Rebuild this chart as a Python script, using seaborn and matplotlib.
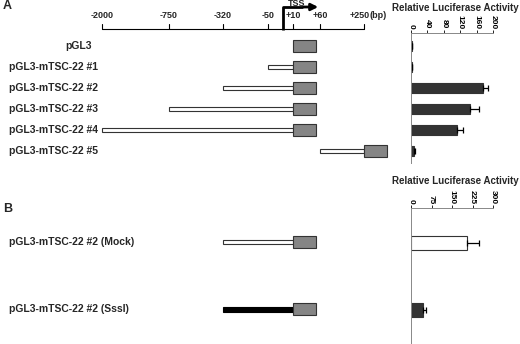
import numpy as np
import pandas as pd
import matplotlib
matplotlib.use("Agg")
import matplotlib.pyplot as plt
from matplotlib.patches import Rectangle
import seaborn as sns

# promoter map: bp anchors and where they sit on the (non-linear) schematic
scale_bp = [-2000, -750, -320, -50, 10, 60, 250]
scale_lbl = ["-2000", "-750", "-320", "-50", "+10", "+60", "+250"]
map_bp = [-2000, -750, -320, -50, 0, 10, 60, 250]
map_px = [102, 169, 223, 268, 283, 293, 320, 364]

# panel A constructs
names_a = ["pGL3", "pGL3-mTSC-22 #1", "pGL3-mTSC-22 #2",
           "pGL3-mTSC-22 #3", "pGL3-mTSC-22 #4", "pGL3-mTSC-22 #5"]
start_a = [10, -50, -320, -750, -2000, 60]
end_a = [10, 10, 10, 10, 10, 250]
luc_a = [2, 2, 176, 144, 112, 7]
err_a = [0, 0, 12, 22, 15, 3]

# panel B constructs
names_b = ["pGL3-mTSC-22 #2 (Mock)", "pGL3-mTSC-22 #2 (SssI)"]
start_b = [-320, -320]
end_b = [10, 10]
methylated_b = [False, True]
luc_b = [205, 44]
err_b = [44, 11]

FONT = ["Liberation Sans", "DejaVu Sans"]
sns.set_style("white")
plt.rcParams["font.family"] = FONT
plt.rcParams["font.weight"] = "bold"

W, H = 520, 344
fig = plt.figure(figsize=(W / 100, H / 100), dpi=100)

def bpx(bp):
    return float(np.interp(bp, map_bp, map_px))

# ---- schematic (pixel coordinates) ----
ax = fig.add_axes([0, 0, 1, 1])
ax.set_xlim(0, W)
ax.set_ylim(H, 0)
ax.axis("off")
ax.patch.set_alpha(0)

edge = "#333333"
box_w, box_h = 23, 12

# scale bar
ax.plot([bpx(-2000), bpx(250)], [29, 29], color="black", lw=0.8)
for bp, lab in zip(scale_bp, scale_lbl):
    x = bpx(bp)
    ax.plot([x, x], [29, 24], color="black", lw=0.8)
    ax.text(x - (4 if bp == 250 else 0), 15, lab, ha="center", va="center",
            fontsize=6.5, fontweight="bold")
ax.text(bpx(250) + 5, 15, "(bp)", ha="left", va="center", fontsize=6.5, fontweight="bold")

# TSS arrow
tx = bpx(0)
ax.plot([tx, tx, tx + 20], [29.5, 7, 7], color="black", lw=2, solid_capstyle="butt")
ax.annotate("", xy=(tx + 38, 7), xytext=(tx + 18, 7),
            arrowprops=dict(arrowstyle="-|>", lw=2, color="black", mutation_scale=10))
ax.text(tx + 14, 3.5, "TSS", ha="center", va="center", fontsize=6.5, fontweight="bold")

def construct(y, s, e, dark=False):
    x0, x1 = bpx(s), bpx(e)
    if x1 > x0:
        h = 5 if dark else 4
        ax.add_patch(Rectangle((x0, y - h / 2), x1 - x0, h,
                               facecolor="black" if dark else "white",
                               edgecolor="black" if dark else edge, lw=0.8))
    ax.add_patch(Rectangle((x1, y - box_h / 2), box_w, box_h,
                           facecolor="#858585", edgecolor=edge, lw=0.8))

rows_a = [46 + 21 * i for i in range(len(names_a))]
for name, s, e, y in zip(names_a, start_a, end_a, rows_a):
    construct(y, s, e)
    ax.text(65 if name == "pGL3" else 9, y, name, ha="left", va="center",
            fontsize=7.5, fontweight="bold")

rows_b = [242, 309]
for name, s, e, m, y in zip(names_b, start_b, end_b, methylated_b, rows_b):
    construct(y, s, e, dark=m)
    ax.text(9, y, name, ha="left", va="center", fontsize=7.5, fontweight="bold")

fig.text(3 / W, 1 - 6 / H, "A", ha="left", va="center", fontsize=9, fontweight="bold")
fig.text(3 / W, 1 - 209 / H, "B", ha="left", va="center", fontsize=9, fontweight="bold")

# ---- luciferase bar charts ----
def bar_panel(rect, names, vals, errs, colors, xmax, ticks, ylim, width, title_y):
    bx = fig.add_axes(rect)
    df = pd.DataFrame({"construct": names, "luc": vals})
    sns.barplot(data=df, x="luc", y="construct", hue="construct", palette=colors,
                orient="h", width=width, edgecolor=edge, linewidth=0.8,
                legend=False, ax=bx)
    pos = np.arange(len(names))
    bx.errorbar(vals, pos, xerr=[np.zeros(len(errs)), errs], fmt="none",
                ecolor="black", elinewidth=0.9, capsize=2, capthick=0.9)
    bx.set_xlim(0, xmax)
    bx.set_ylim(*ylim)
    bx.set_yticks([])
    bx.set_xticks(ticks)
    bx.set_xlabel("")
    bx.set_ylabel("")
    bx.xaxis.tick_top()
    bx.tick_params(axis="x", direction="out", length=2, width=0.6, pad=1,
                   labelsize=6, labelrotation=270, colors="black")
    for sp in ["right", "bottom"]:
        bx.spines[sp].set_visible(False)
    for sp in ["left", "top"]:
        bx.spines[sp].set_color("#888888")
        bx.spines[sp].set_linewidth(0.7)
    bx.patch.set_alpha(0)
    fig.text(455 / W, 1 - title_y / H, "Relative Luciferase Activity",
             ha="center", va="center", fontsize=7, fontweight="bold")
    return bx

bar_panel([411 / W, 1 - 163 / H, 82 / W, 130 / H], names_a, luc_a, err_a,
          ["#333333"] * 6, 200, [0, 40, 80, 120, 160, 200],
          (5.571, -0.619), 0.48, 8)
bar_panel([411 / W, 1 - 343 / H, 82 / W, 135 / H], names_b, luc_b, err_b,
          ["white", "#333333"], 300, [0, 75, 150, 225, 300],
          (1.49, -0.522), 0.2, 181)

fig.savefig("out.png", dpi=100)
